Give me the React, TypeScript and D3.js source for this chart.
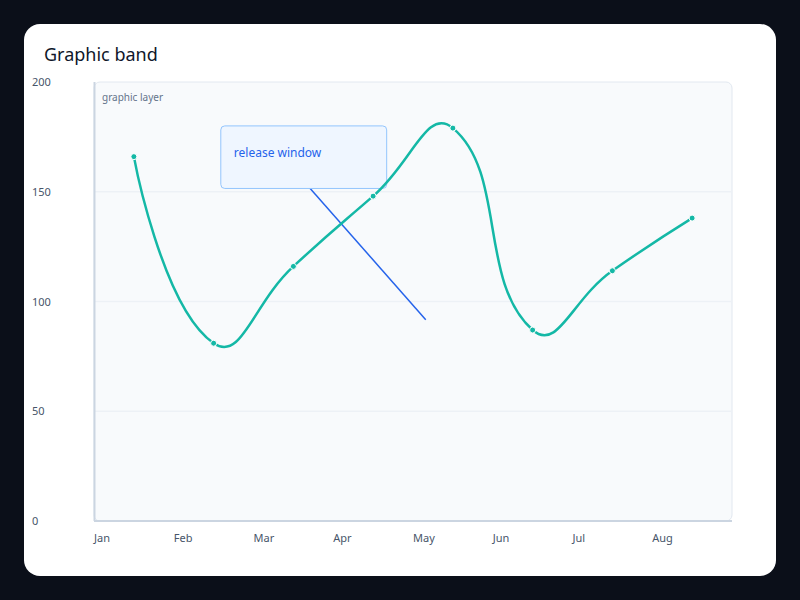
import { useEffect, useRef } from 'react';
import * as d3 from 'd3';

const months = ['Jan', 'Feb', 'Mar', 'Apr', 'May', 'Jun', 'Jul', 'Aug'];
const values = [166, 81, 116, 148, 179, 87, 114, 138];
const yTicks = [0, 50, 100, 150, 200];

// annotation line, x as fractional month index
const bandLine = [
  { idx: 2.15, value: 154 },
  { idx: 3.66, value: 91.7 },
];
const bandLabel = 'release window';
const bandBox = { idx0: 1.09, idx1: 3.17, v0: 180, v1: 151.5 };

// bezier smoothing: control points along (next - prev), split by segment length
function smoothPath(pts: [number, number][], smooth = 0.5): string {
  const p = d3.path();
  let cp0: [number, number] = pts[0];
  p.moveTo(pts[0][0], pts[0][1]);
  for (let i = 1; i < pts.length; i++) {
    const [x, y] = pts[i];
    const prev = pts[i - 1];
    const next = pts[i + 1];
    let cp1: [number, number] = [x, y];
    let nextCp: [number, number] = [x, y];
    if (next) {
      const vx = next[0] - prev[0];
      const vy = next[1] - prev[1];
      const d0 = Math.hypot(x - prev[0], y - prev[1]);
      const d1 = Math.hypot(next[0] - x, next[1] - y);
      const r = d1 / (d0 + d1);
      cp1 = [x - vx * smooth * (1 - r), y - vy * smooth * (1 - r)];
      nextCp = [x + vx * smooth * r, y + vy * smooth * r];
    }
    p.bezierCurveTo(cp0[0], cp0[1], cp1[0], cp1[1], x, y);
    cp0 = nextCp;
  }
  return p.toString();
}

export default function App() {
  const svgRef = useRef<SVGSVGElement>(null);
  const width = 800;
  const height = 600;

  useEffect(() => {
    if (!svgRef.current) return;
    const svg = d3.select(svgRef.current);
    svg.selectAll('*').remove();

    const font = '"Noto Sans", sans-serif';
    const margin = { top: 82, right: 68, bottom: 79, left: 94 };
    const innerW = width - margin.left - margin.right;
    const innerH = height - margin.top - margin.bottom;

    svg.append('rect').attr('width', width).attr('height', height).attr('fill', '#0b0f19');
    svg.append('rect')
      .attr('x', 24).attr('y', 24)
      .attr('width', 752).attr('height', 552)
      .attr('rx', 16)
      .attr('fill', '#ffffff');

    svg.append('text')
      .attr('x', 44).attr('y', 61)
      .attr('font-family', font)
      .attr('font-size', 18)
      .attr('fill', '#0f172a')
      .text('Graphic band');

    const x = d3.scaleBand<string>().domain(months).range([0, innerW]);
    const xi = (i: number) => x.bandwidth() / 2 + i * x.step();
    const y = d3.scaleLinear().domain([0, 200]).range([innerH, 0]);

    const g = svg.append('g').attr('transform', `translate(${margin.left},${margin.top})`);

    g.append('rect')
      .attr('x', 0).attr('y', 0)
      .attr('width', innerW).attr('height', innerH)
      .attr('rx', 6)
      .attr('fill', '#f8fafc')
      .attr('stroke', '#e2e8f0');

    g.selectAll('.grid')
      .data(yTicks.filter(t => t > 0 && t < 200))
      .enter().append('line')
      .attr('x1', 0).attr('x2', innerW)
      .attr('y1', d => y(d)).attr('y2', d => y(d))
      .attr('stroke', '#edf1f6')
      .attr('stroke-width', 1.5);

    g.append('line')
      .attr('x1', 0.5).attr('x2', 0.5).attr('y1', 0).attr('y2', innerH)
      .attr('stroke', '#cbd5e1').attr('stroke-width', 2);
    g.append('line')
      .attr('x1', 0).attr('x2', innerW).attr('y1', innerH).attr('y2', innerH)
      .attr('stroke', '#cbd5e1').attr('stroke-width', 2);

    g.selectAll('.ytick')
      .data(yTicks)
      .enter().append('text')
      .attr('x', 32 - margin.left)
      .attr('y', d => y(d) + 4)
      .attr('font-family', font)
      .attr('font-size', 11)
      .attr('fill', '#475569')
      .text(d => d);

    g.selectAll('.xtick')
      .data(months)
      .enter().append('text')
      .attr('x', d => x(d) as number)
      .attr('y', innerH + 21)
      .attr('font-family', font)
      .attr('font-size', 11)
      .attr('fill', '#475569')
      .text(d => d);

    g.append('text')
      .attr('x', 8).attr('y', 19)
      .attr('font-family', font)
      .attr('font-size', 10)
      .attr('fill', '#64748b')
      .text('graphic layer');

    const seg = d3.line<{ idx: number; value: number }>()
      .x(d => xi(d.idx))
      .y(d => y(d.value));
    g.append('path')
      .datum(bandLine)
      .attr('fill', 'none')
      .attr('stroke', '#2563eb')
      .attr('stroke-width', 1.5)
      .attr('d', seg);

    g.append('rect')
      .attr('x', xi(bandBox.idx0))
      .attr('y', y(bandBox.v0))
      .attr('width', xi(bandBox.idx1) - xi(bandBox.idx0))
      .attr('height', y(bandBox.v1) - y(bandBox.v0))
      .attr('rx', 4)
      .attr('fill', '#eff6ff')
      .attr('stroke', '#93c5fd')
      .attr('stroke-width', 1);
    g.append('text')
      .attr('x', xi(bandBox.idx0) + 13)
      .attr('y', y(bandBox.v0) + 31)
      .attr('font-family', font)
      .attr('font-size', 12)
      .attr('fill', '#2563eb')
      .text(bandLabel);

    const pts = values.map((v, i) => [(x(months[i]) as number) + x.bandwidth() / 2, y(v)] as [number, number]);
    g.append('path')
      .attr('fill', 'none')
      .attr('stroke', '#14b8a6')
      .attr('stroke-width', 2.5)
      .attr('d', smoothPath(pts));

    g.selectAll('.pt')
      .data(values)
      .enter().append('circle')
      .attr('cx', (_, i) => (x(months[i]) as number) + x.bandwidth() / 2)
      .attr('cy', d => y(d))
      .attr('r', 3)
      .attr('fill', '#14b8a6')
      .attr('stroke', '#ffffff')
      .attr('stroke-width', 1);
  }, []);

  return <svg ref={svgRef} width={width} height={height} style={{ display: 'block', position: 'absolute', left: 0, top: 0 }} />;
}
